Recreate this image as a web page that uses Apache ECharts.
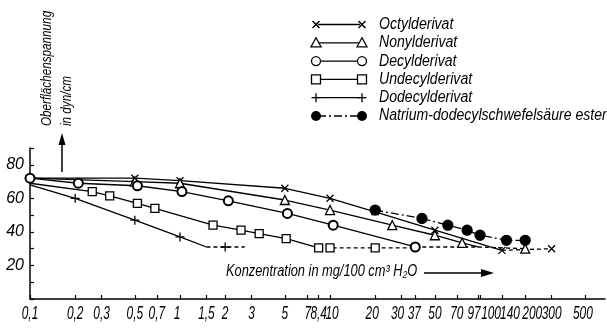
<!DOCTYPE html>
<html><head><meta charset="utf-8">
<script src="https://cdn.jsdelivr.net/npm/echarts@6/dist/echarts.min.js"></script>
<style>html,body{margin:0;padding:0;background:#fff}#c{width:607px;height:328px}</style>
</head><body><div id="c"></div>
<script>
// ---- data (concentration in mg/100 cm3 H2O, surface tension in dyn/cm) ----
const tickLabels = ['0.1','0.2','0.3','0.5','0.7','1','1.5','2','3','5','7','8.4','10','20','30','37','50','70','97','100','140','200','300','500'];
const yTicks = [20, 40, 60, 80];

const octylX = [0.1, 0.5, 1, 5, 10, 20, 50, 140];
const octylY = [72, 72, 70.5, 66, 60, 52, 41, 29];
const octylDashX = [140, 300];
const octylDashY = [29, 30];

const nonylX = [0.1, 0.5, 1, 5, 10, 26, 50, 76, 97];
const nonylY = [72, 70, 69, 59, 53, 44, 38, 33.5, 31];
const nonylDashX = [97, 200];
const nonylDashY = [31, 30];

const decylX = [0.1, 0.21, 0.52, 1.03, 2.1, 5.2, 10.5, 37];
const decylY = [72, 69, 67.5, 64, 58.5, 51, 44, 31];
const decylDashX = [37, 97];
const decylDashY = [31, 31];

const undecylX = [0.1, 0.26, 0.34, 0.52, 0.68, 1.66, 2.55, 3.37, 5.1, 8.4];
const undecylY = [69, 64, 61.5, 57, 54, 44, 41, 39, 36, 30.5];
const undecylDashX = [8.4, 10, 20, 37];
const undecylDashY = [30.5, 30.5, 30.5, 30.5];

const dodecylX = [0.1, 0.2, 0.5, 1, 1.5];
const dodecylY = [68, 60, 47, 37, 31];
const dodecylDashX = [1.5, 2, 2.7];
const dodecylDashY = [31, 31, 31];

const natriumX = [20, 41, 61, 82, 100, 150, 200];
const natriumY = [53, 48, 44, 41, 38, 35, 35];

const names = ['Octylderivat','Nonylderivat','Decylderivat','Undecylderivat','Dodecylderivat','Natrium-dodecylschwefelsäure ester'];

// ---- build ----
const FONT = '"Liberation Sans", Arial, sans-serif';
const lg = v => Math.log10(v);
const SYM = {
  x: 'path://M0,0L10,10M10,0L0,10',
  plus: 'path://M5,0L5,10M0,5L10,5',
  tri: 'path://M5,0L10,9L0,9Z',
  circ: 'emptyCircle',
  sq: 'path://M0,0L10,0L10,10L0,10Z',
  dot: 'circle'
};
function mk(xs, ys, unmarked) {
  return xs.map((x, i) => {
    const it = { value: [lg(x), ys[i]] };
    if (unmarked.includes(i)) it.symbol = 'none';
    return it;
  });
}
function ser(name, data, sym, size, dash, fillWhite) {
  return {
    name: name, type: 'line', data: data, symbol: sym, symbolSize: size,
    showAllSymbol: true, smooth: false, z: 3,
    lineStyle: { color: '#000', width: 1.3, type: dash },
    itemStyle: { color: fillWhite ? '#fff' : '#000', borderColor: '#000', borderWidth: 1.3 },
    emphasis: { disabled: true }, animation: false
  };
}
const series = [
  ser(names[0], mk(octylX, octylY, [0]), SYM.x, 7, 'solid'),
  ser(names[0], mk(octylDashX, octylDashY, [0]), SYM.x, 7, [4, 3]),
  ser(names[1], mk(nonylX, nonylY, [0, 8]), SYM.tri, 9, 'solid', true),
  ser(names[1], mk(nonylDashX, nonylDashY, [0]), SYM.tri, 9, [4, 3], true),
  ser(names[2], mk(decylX, decylY, []), SYM.circ, 9, 'solid'),
  ser(names[2], mk(decylDashX, decylDashY, [0, 1]), SYM.circ, 9, [4, 3]),
  ser(names[3], mk(undecylX, undecylY, [0]), SYM.sq, 8, 'solid', true),
  ser(names[3], mk(undecylDashX, undecylDashY, [0, 3]), SYM.sq, 8, [4, 3], true),
  ser(names[4], mk(dodecylX, dodecylY, [0, 4]), SYM.plus, 9, 'solid'),
  ser(names[4], mk(dodecylDashX, dodecylDashY, [0, 2]), SYM.plus, 9, [4, 3]),
  ser(names[5], mk(natriumX, natriumY, []), SYM.dot, 10, [8, 3, 2, 3])
];

// x tick labels: condensed italic text placed through the x scale (custom series)
const tickVals = tickLabels.map(t => lg(parseFloat(t)));
const nudge = { '1': -3, '20': -3, '30': -4, '37': -1, '97': -4, '100': 11, '140': 8, '200': 7, '7': 1, '10': 2, '500': -2 };
series.push({
  type: 'custom', name: 'xlabels', clip: false, silent: true, z: 5,
  data: tickVals.map(v => [v, 0]),
  encode: { x: 0, y: 1 },
  renderItem: function (params, api) {
    const p = api.coord([api.value(0), 0]);
    const s = tickLabels[params.dataIndex];
    return {
      type: 'text', x: p[0] + (nudge[s] || 0), y: p[1] + 15, scaleX: 0.66, scaleY: 1,
      style: { text: s.replace('.', ','), font: 'italic 18px ' + FONT, fill: '#000', align: 'center', verticalAlign: 'middle' }
    };
  }
});

// legend drawn as graphic
const legendTypes = ['x', 'tri', 'circ', 'sq', 'plus', 'dot'];
function legSym(t, cx, cy) {
  const st = { stroke: '#000', lineWidth: 1.3, fill: '#fff' };
  switch (t) {
    case 'x': return [
      { type: 'line', shape: { x1: cx - 3.5, y1: cy - 3.5, x2: cx + 3.5, y2: cy + 3.5 }, style: { stroke: '#000', lineWidth: 1.5 } },
      { type: 'line', shape: { x1: cx + 3.5, y1: cy - 3.5, x2: cx - 3.5, y2: cy + 3.5 }, style: { stroke: '#000', lineWidth: 1.5 } }];
    case 'plus': return [
      { type: 'line', shape: { x1: cx - 4.5, y1: cy, x2: cx + 4.5, y2: cy }, style: { stroke: '#000', lineWidth: 1.3 } },
      { type: 'line', shape: { x1: cx, y1: cy - 4.5, x2: cx, y2: cy + 4.5 }, style: { stroke: '#000', lineWidth: 1.3 } }];
    case 'tri': return [{ type: 'polygon', shape: { points: [[cx, cy - 5], [cx + 5, cy + 4], [cx - 5, cy + 4]] }, style: st }];
    case 'circ': return [{ type: 'circle', shape: { cx: cx, cy: cy, r: 4.5 }, style: st }];
    case 'sq': return [{ type: 'rect', shape: { x: cx - 4.5, y: cy - 4.5, width: 9, height: 9 }, style: st }];
    case 'dot': return [{ type: 'circle', shape: { cx: cx, cy: cy, r: 5 }, style: { fill: '#000' } }];
  }
}
function txt(x, y, s, size, sx, rot) {
  return { type: 'text', x: x, y: y, rotation: rot || 0, scaleX: sx, scaleY: 1,
    style: { text: s, font: 'italic ' + size + 'px ' + FONT, fill: '#000', verticalAlign: 'middle', align: 'left' } };
}
const graphics = [];
names.forEach((n, i) => {
  const y = 24.5 + i * 18.3;
  const dash = i === 5 ? [8, 3, 2, 3] : null;
  graphics.push({ type: 'line', shape: { x1: 318, y1: y, x2: 360, y2: y }, style: { stroke: '#000', lineWidth: 1.3, lineDash: dash } });
  legSym(legendTypes[i], 316, y).forEach(g => graphics.push(g));
  legSym(legendTypes[i], 362, y).forEach(g => graphics.push(g));
  graphics.push(txt(379, y, n, 16, 0.88));
});
// y axis title (rotated)
graphics.push(txt(47, 126, 'Oberflächenspannung', 15, 0.78, Math.PI / 2));
graphics.push(txt(67, 126, 'in dyn/cm', 15, 0.78, Math.PI / 2));
graphics.push({ type: 'line', shape: { x1: 62, y1: 172, x2: 62, y2: 142 }, style: { stroke: '#000', lineWidth: 1.5 } });
graphics.push({ type: 'polygon', shape: { points: [[62, 133], [65.5, 145], [58.5, 145]] }, style: { fill: '#000' } });
// x axis title
graphics.push(txt(226, 272, 'Konzentration in mg/100 cm³ H₂O', 16, 0.8));
graphics.push({ type: 'line', shape: { x1: 424, y1: 273, x2: 484, y2: 273 }, style: { stroke: '#000', lineWidth: 1.5 } });
graphics.push({ type: 'polygon', shape: { points: [[494, 273], [481, 269], [481, 277]] }, style: { fill: '#000' } });

const chart = echarts.init(document.getElementById('c'), null, { renderer: 'canvas' });
chart.setOption({
  animation: false,
  backgroundColor: '#fff',
  grid: { left: 30, right: 2, top: 148, bottom: 29, containLabel: false },
  xAxis: {
    type: 'value', min: -1, max: 2.833,
    axisLine: { show: true, onZero: false, lineStyle: { color: '#000', width: 1.5 } },
    axisTick: { show: true, inside: true, length: 4, customValues: tickVals, lineStyle: { color: '#000', width: 1.2 } },
    axisLabel: { show: false },
    splitLine: { show: false }
  },
  yAxis: {
    type: 'value', min: 0, max: 90, interval: 10,
    axisLine: { show: true, onZero: false, lineStyle: { color: '#000', width: 1.5 } },
    axisTick: { show: true, inside: true, length: 4, lineStyle: { color: '#000', width: 1.2 } },
    axisLabel: { formatter: v => yTicks.includes(v) ? String(v) : '', margin: 6, fontFamily: FONT, fontStyle: 'italic', fontSize: 16, color: '#000' },
    splitLine: { show: false }
  },
  graphic: graphics,
  series: series
});
</script></body></html>
